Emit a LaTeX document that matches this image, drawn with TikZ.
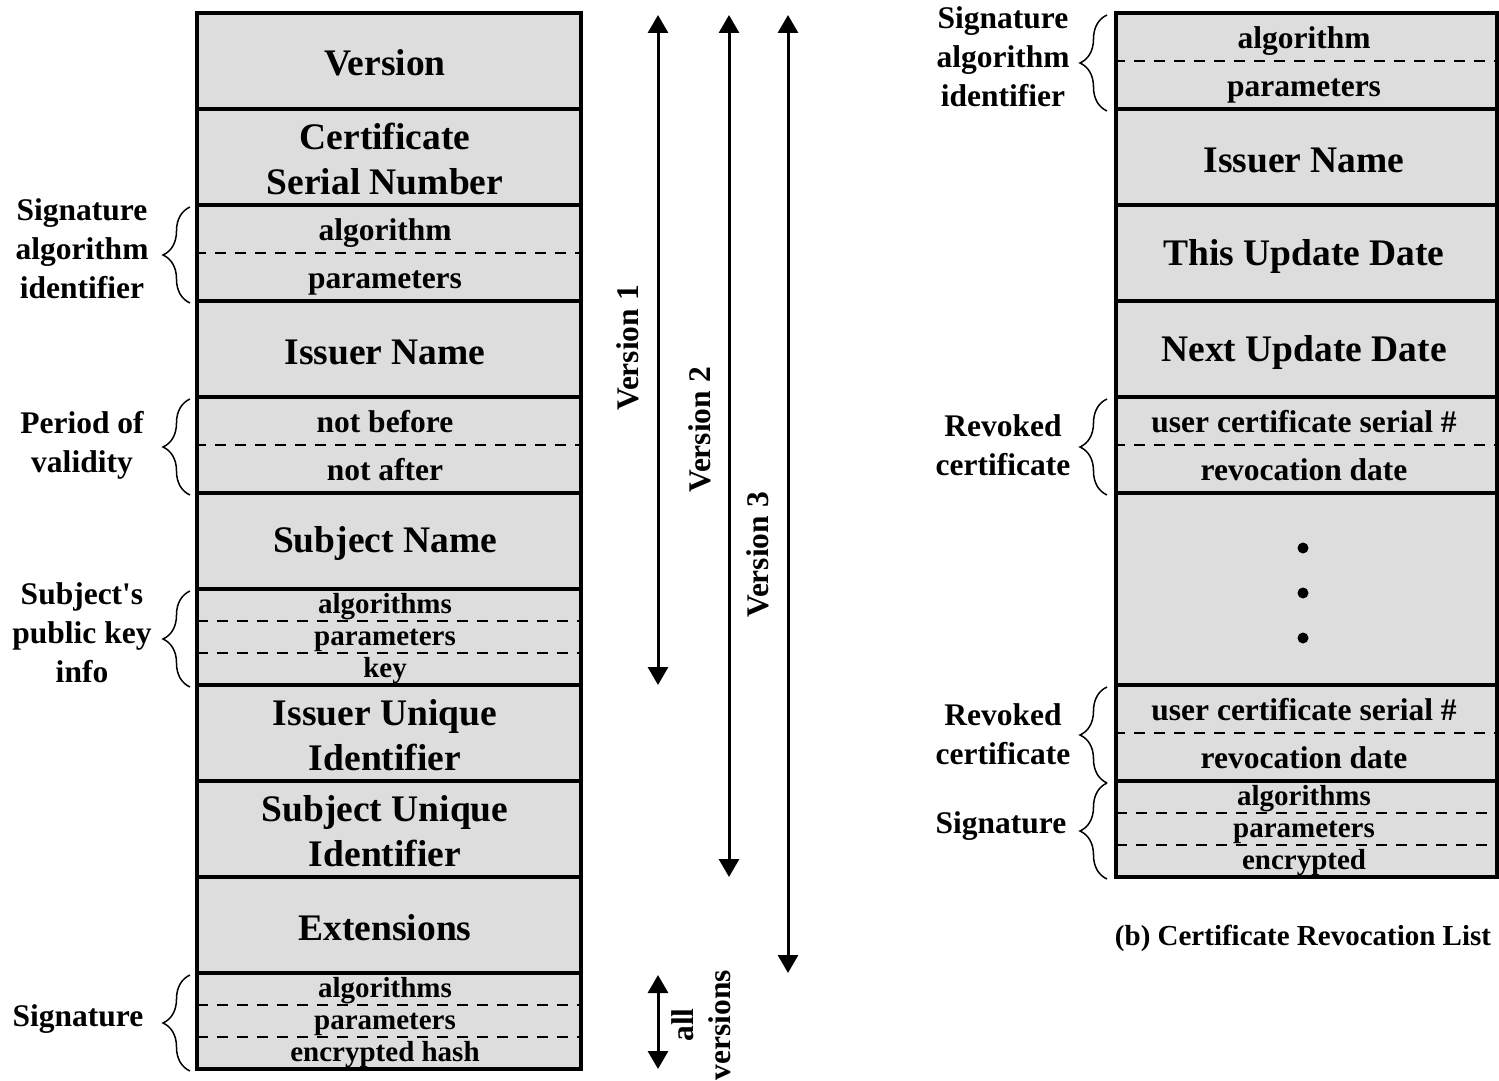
\documentclass[tikz,border=0pt]{standalone}
\usepackage{fontspec}
\setmainfont{Liberation Serif}[Ligatures=TeXOff]
\usetikzlibrary{arrows.meta,decorations.pathreplacing}
\definecolor{cellgray}{RGB}{221,221,221}
\begin{document}
\begin{tikzpicture}[x=1pt,y=-1pt,
  cell/.style={draw=black, fill=cellgray, line width=3.5pt, inner sep=0pt, minimum height=96pt},
  lcell/.style={cell, minimum width=384pt},
  rcell/.style={cell, minimum width=381pt},
  maintxt/.style={inner sep=0pt, align=center, font=\bfseries\fontsize{37.5}{45}\selectfont},
  subtxt/.style={inner sep=0pt, text height=30pt, text depth=6.5pt, font=\bfseries\fontsize{31.5}{38}\selectfont},
  tinytxt/.style={inner sep=0pt, text height=23pt, text depth=6pt, font=\bfseries\fontsize{29}{32}\selectfont},
  lab/.style={inner sep=0pt, align=center, font=\bfseries\fontsize{31.5}{39}\selectfont},
  sepline/.style={line width=1.8pt, dash pattern=on 11pt off 9pt},
  brc/.style={decorate, decoration={brace, amplitude=27pt}, line width=1.5pt},
  spanarrow/.style={line width=3pt, {Triangle[width=20pt,length=18pt]}-{Triangle[width=20pt,length=18pt]}},
  vlab/.style={inner sep=0pt, rotate=90, align=center, font=\bfseries\fontsize{31.5}{37}\selectfont}
]
\useasboundingbox (0,0) rectangle (1499,1081);

% ---------- left: certificate ----------
\node[lcell] (ver) at (389,61) {};
\node[lcell] (csn) at (389,157) {};
\node[lcell] (sai) at (389,253) {};
\node[lcell] (iss) at (389,349) {};
\node[lcell] (pov) at (389,445) {};
\node[lcell] (sbn) at (389,541) {};
\node[lcell] (spk) at (389,637) {};
\node[lcell] (iui) at (389,733) {};
\node[lcell] (sui) at (389,829) {};
\node[lcell] (ext) at (389,925) {};
\node[lcell] (sig) at (389,1021) {};

\node[maintxt] (tver) at (385,63) {Version};
\node[maintxt] (tcsn) at (385,159) {Certificate\\Serial Number};
\node[maintxt] (tiss) at (385,352) {Issuer Name};
\node[maintxt] (tsbn) at (385,543) {Subject Name};
\node[maintxt] (tiui) at (385,735) {Issuer Unique\\Identifier};
\node[maintxt] (tsui) at (385,831) {Subject Unique\\Identifier};
\node[maintxt] (text) at (385,928) {Extensions};

\draw[sepline] (sai.west) -- (sai.east);
\draw[sepline] (pov.west) -- (pov.east);
\draw[sepline] (197,621) -- (581,621);
\draw[sepline] (197,653) -- (581,653);
\draw[sepline] (197,1005) -- (581,1005);
\draw[sepline] (197,1037) -- (581,1037);

\node[subtxt] (sai1) at (385,229) {algorithm};
\node[subtxt] (sai2) at (385,277) {parameters};
\node[subtxt] (pov1) at (385,421) {not before};
\node[subtxt] (pov2) at (385,469) {not after};
\node[tinytxt] (spk1) at (385,605) {algorithms};
\node[tinytxt] (spk2) at (385,637) {parameters};
\node[tinytxt] (spk3) at (385,669) {key};
\node[tinytxt] (sig1) at (385,989) {algorithms};
\node[tinytxt] (sig2) at (385,1021) {parameters};
\node[tinytxt] (sig3) at (385,1053) {encrypted hash};

% braces and labels (left)
\draw[brc] (190,303) -- (190,207);
\draw[brc] (190,495) -- (190,399);
\draw[brc] (190,687) -- (190,591);
\draw[brc] (190,1071) -- (190,975);
\node[lab] (lsai) at (82,249) {Signature\\algorithm\\identifier};
\node[lab] (lpov) at (82,445) {Period of\\validity};
\node[lab] (lspk) at (82,633) {Subject's\\public key\\info};
\node[lab] (lsig) at (78,1019) {Signature};

% version arrows
\coordinate (v1t) at (658,15);  \coordinate (v1b) at (658,685);
\coordinate (v2t) at (729,15);  \coordinate (v2b) at (729,877);
\coordinate (v3t) at (788,15);  \coordinate (v3b) at (788,973);
\coordinate (avt) at (658,975); \coordinate (avb) at (658,1069);
\draw[spanarrow] (v1t) -- (v1b);
\draw[spanarrow] (v2t) -- (v2b);
\draw[spanarrow] (v3t) -- (v3b);
\draw[spanarrow] (avt) -- (avb);
\node[vlab] (lv1) at (628,348) {Version 1};
\node[vlab] (lv2) at (700,430) {Version 2};
\node[vlab] (lv3) at (758,555) {Version 3};
\node[vlab] (lav) at (701,1025) {all\\versions};

% ---------- right: CRL ----------
\node[rcell] (rsai) at (1306.5,61) {};
\node[rcell] (riss) at (1306.5,157) {};
\node[rcell] (rtud) at (1306.5,253) {};
\node[rcell] (rnud) at (1306.5,349) {};
\node[rcell] (rrc1) at (1306.5,445) {};
\node[rcell, minimum height=192pt] (rdots) at (1306.5,589) {};
\node[rcell] (rrc2) at (1306.5,733) {};
\node[rcell] (rsig) at (1306.5,829) {};

\node[maintxt] (triss) at (1304,160) {Issuer Name};
\node[maintxt] (trtud) at (1304,256) {This Update Date};
\node[maintxt] (trnud) at (1304,352) {Next Update Date};

\draw[sepline] (rsai.west) -- (rsai.east);
\draw[sepline] (rrc1.west) -- (rrc1.east);
\draw[sepline] (rrc2.west) -- (rrc2.east);
\draw[sepline] (1116,813) -- (1497,813);
\draw[sepline] (1116,845) -- (1497,845);

\node[subtxt] (rsai1) at (1304,37) {algorithm};
\node[subtxt] (rsai2) at (1304,85) {parameters};
\node[subtxt] (rrc11) at (1304,421) {user certificate serial \#};
\node[subtxt] (rrc12) at (1304,469) {revocation date};
\node[subtxt] (rrc21) at (1304,709) {user certificate serial \#};
\node[subtxt] (rrc22) at (1304,757) {revocation date};
\node[tinytxt] (rsig1) at (1304,797) {algorithms};
\node[tinytxt] (rsig2) at (1304,829) {parameters};
\node[tinytxt] (rsig3) at (1304,861) {encrypted};

\fill (1303,548) circle (5.5pt);
\fill (1303,593) circle (5.5pt);
\fill (1303,638) circle (5.5pt);

\draw[brc] (1107,111) -- (1107,15);
\draw[brc] (1107,495) -- (1107,399);
\draw[brc] (1107,783) -- (1107,687);
\draw[brc] (1107,879) -- (1107,783);
\node[lab] (rlsai) at (1003,57) {Signature\\algorithm\\identifier};
\node[lab] (rlrc1) at (1003,445) {Revoked\\certificate};
\node[lab] (rlrc2) at (1003,734) {Revoked\\certificate};
\node[lab] (rlsig) at (1001,826) {Signature};

\node[inner sep=0pt, font=\bfseries\fontsize{29}{34}\selectfont] (cap) at (1303,938) {(b) Certificate Revocation List};
\end{tikzpicture}
\end{document}
